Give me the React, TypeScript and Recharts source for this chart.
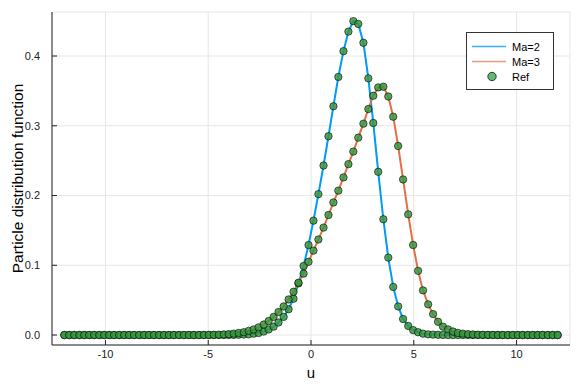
import { CartesianGrid, ComposedChart, Label, Legend, Line, Scatter, XAxis, YAxis } from "recharts";

// velocity grid (100 points on [-12, 12])
const u = [
  -12.0, -11.76, -11.52, -11.27, -11.03, -10.79, -10.55, -10.3, -10.06, -9.82,
  -9.58, -9.33, -9.09, -8.85, -8.61, -8.36, -8.12, -7.88, -7.64, -7.39,
  -7.15, -6.91, -6.67, -6.42, -6.18, -5.94, -5.7, -5.45, -5.21, -4.97,
  -4.73, -4.48, -4.24, -4.0, -3.76, -3.52, -3.27, -3.03, -2.79, -2.55,
  -2.3, -2.06, -1.82, -1.58, -1.33, -1.09, -0.85, -0.61, -0.36, -0.12,
  0.12, 0.36, 0.61, 0.85, 1.09, 1.33, 1.58, 1.82, 2.06, 2.3,
  2.55, 2.79, 3.03, 3.27, 3.52, 3.76, 4.0, 4.24, 4.48, 4.73,
  4.97, 5.21, 5.45, 5.7, 5.94, 6.18, 6.42, 6.67, 6.91, 7.15,
  7.39, 7.64, 7.88, 8.12, 8.36, 8.61, 8.85, 9.09, 9.33, 9.58,
  9.82, 10.06, 10.3, 10.55, 10.79, 11.03, 11.27, 11.52, 11.76, 12.0,
];

const ma2 = [
  0, 0, 0, 0, 0, 0, 0, 0, 0, 0,
  0, 0, 0, 0, 0, 0, 0, 0, 0, 0,
  0, 0, 0, 0, 0, 0, 0, 0, 0, 0,
  0, 0, 0, 0.0001, 0.0002, 0.0004, 0.0007, 0.001, 0.002, 0.003,
  0.005, 0.008, 0.012, 0.018, 0.026, 0.037, 0.052, 0.074, 0.099, 0.129,
  0.164, 0.202, 0.243, 0.285, 0.328, 0.37, 0.407, 0.435, 0.45, 0.446,
  0.419, 0.368, 0.304, 0.234, 0.166, 0.111, 0.069, 0.041, 0.023, 0.013,
  0.007, 0.004, 0.002, 0.001, 0.0006, 0.0003, 0.0001, 0, 0, 0,
  0, 0, 0, 0, 0, 0, 0, 0, 0, 0,
  0, 0, 0, 0, 0, 0, 0, 0, 0, 0,
];

const ma3 = [
  0, 0, 0, 0, 0, 0, 0, 0, 0, 0,
  0, 0, 0, 0, 0, 0, 0, 0, 0, 0,
  0, 0, 0, 0, 0, 0, 0, 0, 0.0001, 0.0002,
  0.0003, 0.0005, 0.0008, 0.0013, 0.002, 0.003, 0.004, 0.006, 0.008, 0.011,
  0.015, 0.02, 0.026, 0.033, 0.041, 0.051, 0.062, 0.075, 0.088, 0.105,
  0.121, 0.137, 0.154, 0.172, 0.19, 0.207, 0.226, 0.245, 0.263, 0.283,
  0.303, 0.324, 0.343, 0.355, 0.356, 0.342, 0.313, 0.271, 0.223, 0.173,
  0.129, 0.092, 0.064, 0.044, 0.03, 0.019, 0.012, 0.008, 0.005, 0.003,
  0.002, 0.0013, 0.0008, 0.0005, 0.0003, 0.0002, 0.0001, 0, 0, 0,
  0, 0, 0, 0, 0, 0, 0, 0, 0, 0,
];

const xTicks = [-10, -5, 0, 5, 10];
const yTicks = [0, 0.1, 0.2, 0.3, 0.4];

const rows = u.map((x, i) => ({ u: x, ma2: ma2[i], ma3: ma3[i] }));

const BLUE = "#009af9";
const ORANGE = "#e26f46";
const GREEN = "#3da44d";
const FONT = "'Liberation Sans', Arial, sans-serif";

function RefDot(props: any) {
  const { cx, cy } = props;
  if (cx == null || cy == null) return null;
  return (
    <circle cx={cx} cy={cy} r={3.7} fill="#38983f" fillOpacity={0.85} stroke="#000" strokeOpacity={0.65} strokeWidth={0.9} />
  );
}

function PlotLegend() {
  const row = { display: "flex", alignItems: "center", height: 15 };
  return (
    <div
      style={{
        boxSizing: "border-box",
        width: 88,
        height: 58,
        paddingTop: 6,
        border: "1px solid #333",
        background: "#fff",
        fontFamily: FONT,
        fontSize: 11,
        color: "#000",
      }}
    >
      <div style={row}>
        <svg width={45} height={15}>
          <line x1={5} x2={39} y1={7.5} y2={7.5} stroke={BLUE} strokeOpacity={0.8} strokeWidth={1.3} />
        </svg>
        <span>Ma=2</span>
      </div>
      <div style={row}>
        <svg width={45} height={15}>
          <line x1={5} x2={39} y1={7.5} y2={7.5} stroke={ORANGE} strokeOpacity={0.7} strokeWidth={1.3} />
        </svg>
        <span>Ma=3</span>
      </div>
      <div style={row}>
        <svg width={45} height={15}>
          <circle cx={25} cy={7.5} r={4.2} fill={GREEN} fillOpacity={0.8} stroke="#000" strokeOpacity={0.7} />
        </svg>
        <span>Ref</span>
      </div>
    </div>
  );
}

export default function App() {
  return (
    <div style={{ position: "absolute", left: 0, top: 0, background: "#fff" }}>
      <ComposedChart
        width={581}
        height={388}
        data={rows}
        margin={{ top: 12, right: 11, bottom: 0, left: 12 }}
        style={{ fontFamily: FONT }}
      >
        <CartesianGrid stroke="#e6e6e6" strokeWidth={1} />
        <XAxis
          dataKey="u"
          type="number"
          domain={[-12.6, 12.6]}
          ticks={xTicks}
          allowDataOverflow
          height={43}
          tickSize={-5}
          tickMargin={10}
          stroke="#222"
          tick={{ fill: "#222", fontSize: 11 }}
        >
          <Label
            content={() => (
              <text x={311} y={378} textAnchor="middle" fontSize={15} fill="#000" fontFamily={FONT}>
                u
              </text>
            )}
          />
        </XAxis>
        <YAxis
          type="number"
          domain={[-0.0143, 0.4631]}
          ticks={yTicks}
          allowDataOverflow
          width={40}
          tickSize={-5}
          tickMargin={17}
          stroke="#222"
          tick={{ fill: "#222", fontSize: 11 }}
          tickFormatter={(v: number) => v.toFixed(1)}
        >
          <Label
            content={() => (
              <text
                x={17}
                y={178.5}
                transform="rotate(-90 17 178.5)"
                textAnchor="middle"
                dominantBaseline="central"
                fontSize={15.5}
                fill="#000"
                fontFamily={FONT}
              >
                Particle distribution function
              </text>
            )}
          />
        </YAxis>
        <Legend
          layout="horizontal"
          verticalAlign="middle"
          align="center"
          content={() => <PlotLegend />}
          wrapperStyle={{ position: "absolute", top: 32, left: 466, width: 88, height: 58 }}
        />
        <Line dataKey="ma2" name="Ma=2" stroke={BLUE} strokeWidth={2} dot={false} isAnimationActive={false} />
        <Line dataKey="ma3" name="Ma=3" stroke={ORANGE} strokeWidth={2} dot={false} isAnimationActive={false} />
        <Scatter dataKey="ma2" name="Ref" shape={<RefDot />} isAnimationActive={false} />
        <Scatter dataKey="ma3" name="Ref" legendType="none" shape={<RefDot />} isAnimationActive={false} />
      </ComposedChart>
    </div>
  );
}
